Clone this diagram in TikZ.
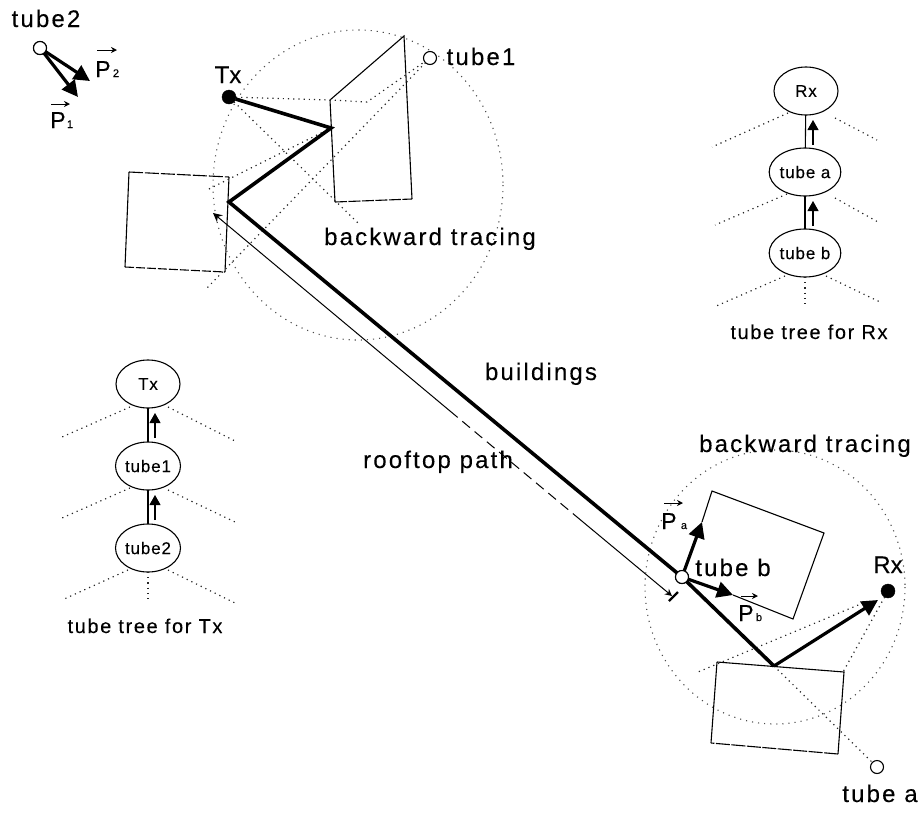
\documentclass[tikz,border=0pt]{standalone}
\usepackage{fontspec}
\setmainfont{Liberation Sans}
\newfontfamily\lab[LetterSpace=9,FakeBold=0.15]{Liberation Sans}
\newfontfamily\trl[LetterSpace=8,FakeBold=0.15]{Liberation Sans}
\newfontfamily\tnd[LetterSpace=5,FakeBold=0.1]{Liberation Sans}
\newfontfamily\pln[FakeBold=0.1]{Liberation Sans}
\usetikzlibrary{arrows.meta,shapes.geometric}
\tikzset{
  every node/.style={inner sep=0pt,outer sep=0pt},
  lbl/.style={anchor=base,font=\lab\fontsize{24}{24}\selectfont},
  big/.style={anchor=base,font=\pln\fontsize{24}{24}\selectfont},
  trlabel/.style={anchor=base,font=\trl\fontsize{20}{20}\selectfont},
  treenode/.style={draw,ellipse,minimum width=64pt,minimum height=48pt,line width=1.1pt,font=\tnd\fontsize{17}{17}\selectfont},
  dots/.style={line width=1.2pt,dash pattern=on 1.2pt off 4pt,black!85},
  fine/.style={line width=1.1pt,dash pattern=on 1.1pt off 5pt,black!70},
  wall/.style={line width=1.1pt},
  ray/.style={line width=3.6pt},
  bigarrow/.style={line width=3.2pt,-{Triangle[length=16pt,width=16pt]}},
  uparrow/.style={line width=1.1pt,-{Triangle[length=10pt,width=11pt]}},
  veca/.style={line width=1pt,-{Stealth[length=6pt,width=6pt]}},
  thin path/.style={line width=1pt},
  openpt/.style={draw,circle,fill=white,minimum size=13pt,line width=1.1pt},
  fullpt/.style={draw,circle,fill=black,minimum size=14pt},
  vecp/.style={anchor=base,font=\pln\fontsize{23}{23}\selectfont},
  vecs/.style={anchor=base,font=\pln\fontsize{11}{11}\selectfont}
}
\begin{document}
\begin{tikzpicture}[x=1pt,y=-1pt]
\useasboundingbox (0,0) rectangle (921,812);
% named geometry
\coordinate (r1) at (331,128);
\coordinate (r2) at (229,202);
\coordinate (r3) at (774,666);
\coordinate (k1) at (330,100);
\coordinate (k2) at (367,102);
\coordinate (e1) at (207,288);
\coordinate (e2) at (207,190);
\coordinate (e3) at (358,223);
\coordinate (e4) at (698,672);
\coordinate (e5) at (843,672);
\coordinate (e6) at (863,603);
\coordinate (pa) at (702,522);
\coordinate (pb) at (733,595);
\coordinate (rxtip) at (878,600);
\coordinate (t2a) at (90,81);
\coordinate (t2b) at (78,97);
\coordinate (rs) at (213,213);
\coordinate (rd1) at (450,411);
\coordinate (rd2) at (577,517);
\coordinate (re) at (672,596);
\coordinate (bar1) at (669,601);
\coordinate (bar2) at (678,592);
% dotted circles
\draw[fine] (358,185) ellipse [x radius=145,y radius=155];
\draw[fine] (775,587) ellipse [x radius=130,y radius=137];
% buildings
\draw[wall] (330,100) -- (404,36) -- (412,199);
\draw[wall] (330,100) -- (335,202);
\draw[wall,dash pattern=on 12pt off 1.5pt] (335,202) -- (412,199);
\draw[wall] (229,177) -- (225,272);
\draw[wall] (129,172) -- (125,267);
\draw[wall,dash pattern=on 14pt off 2pt] (129,172) -- (229,177);
\draw[wall,dash pattern=on 9pt off 2pt] (125,267) -- (225,272);
\draw[wall] (702,522) -- (712,491) -- (824,533) -- (793,619) -- (733,595);
\draw[wall] (717,662) -- (844,672) -- (838,754);
\draw[wall,dash pattern=on 14pt off 1.5pt] (838,754) -- (711,743);
\draw[wall] (711,743) -- (717,662);
% points
\node[fullpt] (tx) at (229,97) {};
\node[openpt] (t1) at (430,58) {};
\node[openpt] (t2) at (40,48) {};
\node[fullpt] (rx) at (888,591) {};
\node[openpt] (ta) at (877,767) {};
% dotted rays
\draw[dots] (tx) -- (k1) -- (k2) -- (t1);
\draw[dots] (t1) -- (e1);
\draw[dots] (r1) -- (e2);
\draw[dots] (tx) -- (e3);
\draw[dots] (e6) -- (e4);
\draw[dots] (rx) -- (e5);
\draw[dots] (r3) -- (ta);
% rooftop path
\draw[thin path,-{Stealth[length=9pt,width=9pt]}] (rd1) -- (rs);
\draw[thin path,dash pattern=on 10pt off 6pt] (rd1) -- (rd2);
\draw[thin path,-{Stealth[length=7pt,width=7pt]}] (rd2) -- (re);
\draw[line width=2.2pt] (bar1) -- (bar2);
% main ray
\node[openpt] (tb) at (682,577) {};
\draw[ray,line join=miter] (tx) -- (r1) -- (r2) -- (tb);
\draw[ray] (tb) -- (r3);
\draw[bigarrow] (r3) -- (rxtip);
\draw[bigarrow] (tb) -- (pa);
\draw[bigarrow] (tb) -- (pb);
\draw[bigarrow] (t2) -- (t2a);
\draw[bigarrow] (t2) -- (t2b);
\node[openpt] at (tb) {};
\node[openpt] at (t2) {};
% labels
\node[lbl] at (46,27) {tube2};
\node[big] at (228,83) {Tx};
\node[lbl] at (481,65) {tube1};
\node[lbl] at (430,245) {backward tracing};
\node[lbl] at (541,380) {buildings};
\node[lbl] at (438,468) {rooftop path};
\node[lbl] at (805,452) {backward tracing};
\node[lbl] at (733,576) {tube b};
\node[big] at (888,573) {Rx};
\node[lbl] at (880,802) {tube a};
% vector labels
\node[vecp] (p2) at (103,77) {P}; \node[vecs] at (116,77) {2};
\draw[veca] (97,50) -- (117,50);
\node[vecp] (p1) at (58,128) {P}; \node[vecs] at (70,128) {1};
\draw[veca] (51,104) -- (70,104);
\node[vecp] (pA) at (669,529) {P}; \node[vecs] at (684,529) {a};
\draw[veca] (664,503) -- (683,503);
\node[vecp] (pB) at (746,621) {P}; \node[vecs] at (759,621) {b};
\draw[veca] (741,596) -- (758,596);
% tree for Rx
\node[treenode] (Rr) at (806,91) {Rx};
\node[treenode] (Ra) at (805,172) {tube a};
\node[treenode] (Rb) at (805,253) {tube b};
\draw[wall] (Rr) -- (Ra);
\draw[wall] (Ra) -- (Rb);
\draw[uparrow] (813,145) -- (813,120);
\draw[uparrow] (813,226) -- (813,201);
\draw[dots] (788,113) -- (712,147);
\draw[dots] (835,118) -- (877,140);
\draw[dots] (787,194) -- (715,225);
\draw[dots] (835,198) -- (878,222);
\draw[dots] (785,276) -- (714,307);
\draw[dots] (826,276) -- (880,302);
\draw[dots] (Rb.south) -- (805,307);
\node[trlabel] at (809,339) {tube tree for Rx};
% tree for Tx
\node[treenode] (Tt) at (148,384) {Tx};
\node[treenode] (T1) at (148,466) {tube1};
\node[treenode] (T2) at (148,548) {tube2};
\draw[wall] (Tt) -- (T1);
\draw[wall] (T1) -- (T2);
\draw[uparrow] (155,438) -- (155,413);
\draw[uparrow] (155,520) -- (155,495);
\draw[dots] (130,407) -- (62,437);
\draw[dots] (168,407) -- (235,441);
\draw[dots] (130,488) -- (62,518);
\draw[dots] (168,490) -- (235,522);
\draw[dots] (128,570) -- (62,600);
\draw[dots] (168,570) -- (235,603);
\draw[dots] (T2.south) -- (148,601);
\node[trlabel] at (145,633) {tube tree for Tx};
\end{tikzpicture}
\end{document}
